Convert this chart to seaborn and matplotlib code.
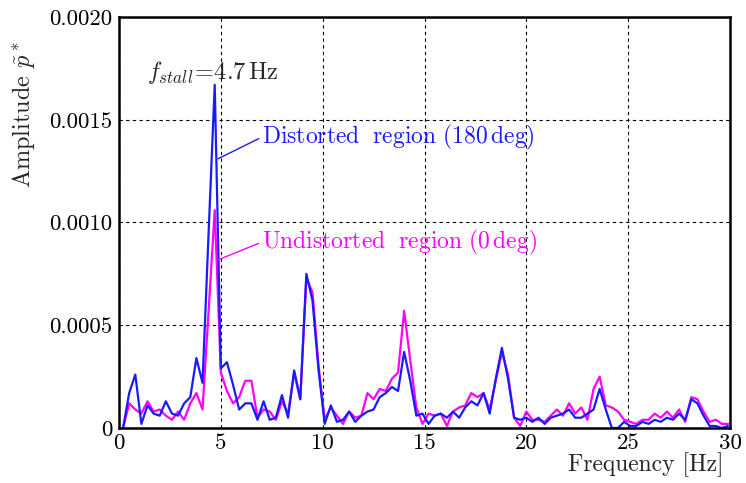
import matplotlib
matplotlib.use("Agg")
import matplotlib.pyplot as plt
import seaborn as sns
import pandas as pd

# Spectrum frequency bins [Hz]
freq = [0.2, 0.5, 0.8, 1.1, 1.4, 1.7, 2.0, 2.3, 2.6, 2.9,
        3.2, 3.5, 3.8, 4.1, 4.4, 4.7, 5.0, 5.3, 5.6, 5.9,
        6.2, 6.5, 6.8, 7.1, 7.4, 7.7, 8.0, 8.3, 8.6, 8.9,
        9.2, 9.5, 9.8, 10.1, 10.4, 10.7, 11.0, 11.3, 11.6, 11.9,
        12.2, 12.5, 12.8, 13.1, 13.4, 13.7, 14.0, 14.3, 14.6, 14.9,
        15.2, 15.5, 15.8, 16.1, 16.4, 16.7, 17.0, 17.3, 17.6, 17.9,
        18.2, 18.5, 18.8, 19.1, 19.4, 19.7, 20.0, 20.3, 20.6, 20.9,
        21.2, 21.5, 21.8, 22.1, 22.4, 22.7, 23.0, 23.3, 23.6, 23.9,
        24.2, 24.5, 24.8, 25.1, 25.4, 25.7, 26.0, 26.3, 26.6, 26.9,
        27.2, 27.5, 27.8, 28.1, 28.4, 28.7, 29.0, 29.3, 29.6, 29.9]

# Pressure amplitude in the distorted sector (180 deg)
amp_distorted = [0.0, 0.00017, 0.00026, 0.00002, 0.00011, 0.00007, 0.00006, 0.00013, 0.00007, 0.00006,
                 0.00012, 0.00015, 0.00034, 0.00022, 0.00095, 0.00167, 0.00029, 0.00032, 0.00021, 0.00009,
                 0.00012, 0.00012, 0.00004, 0.00013, 0.00004, 0.00005, 0.00016, 0.00005, 0.00028, 0.00014,
                 0.00075, 0.00062, 0.00028, 0.00002, 0.00011, 0.00003, 0.00004, 0.00008, 0.00003, 0.00006,
                 0.00008, 0.00009, 0.00015, 0.00017, 0.00020, 0.00018, 0.00037, 0.00023, 0.00006, 0.00007,
                 0.00002, 0.00006, 0.00007, 0.00005, 0.00008, 0.00005, 0.00010, 0.00013, 0.00011, 0.00017,
                 0.00007, 0.00024, 0.00039, 0.00024, 0.00005, 0.00004, 0.00005, 0.00003, 0.00005, 0.00002,
                 0.00005, 0.00006, 0.00007, 0.00009, 0.00005, 0.00005, 0.00007, 0.00009, 0.00019, 0.00009,
                 0.0, 0.0, 0.00003, 0.00001, 0.00001, 0.00003, 0.00002, 0.00004, 0.00003, 0.00005,
                 0.00004, 0.00007, 0.00004, 0.00014, 0.00012, 0.00006, 0.00001, 0.00001, 0.0, 0.00001]

# Pressure amplitude in the undistorted sector (0 deg)
amp_undistorted = [0.0, 0.00012, 0.00009, 0.00007, 0.00013, 0.00008, 0.00009, 0.00006, 0.00004, 0.00008,
                   0.00004, 0.00012, 0.00017, 0.00009, 0.00057, 0.00106, 0.00027, 0.00018, 0.00012, 0.00015,
                   0.00023, 0.00023, 0.00005, 0.00009, 0.00008, 0.00004, 0.00013, 0.00007, 0.00027, 0.00014,
                   0.00073, 0.00066, 0.00030, 0.00004, 0.00010, 0.00006, 0.00002, 0.00008, 0.00005, 0.00006,
                   0.00017, 0.00014, 0.00019, 0.00018, 0.00024, 0.00027, 0.00057, 0.00033, 0.00010, 0.00002,
                   0.00007, 0.00006, 0.00007, 0.00001, 0.00008, 0.00010, 0.00011, 0.00017, 0.00015, 0.00017,
                   0.00009, 0.00023, 0.00037, 0.00026, 0.00005, 0.00001, 0.00008, 0.00004, 0.00004, 0.00003,
                   0.00006, 0.00009, 0.00006, 0.00012, 0.00007, 0.00010, 0.00004, 0.00019, 0.00025, 0.00011,
                   0.00010, 0.00008, 0.00004, 0.00003, 0.00002, 0.00004, 0.00004, 0.00007, 0.00005, 0.00008,
                   0.00005, 0.00009, 0.00003, 0.00015, 0.00014, 0.00008, 0.00003, 0.00004, 0.00002, 0.00002]

x_ticks = [0, 5, 10, 15, 20, 25, 30]
y_ticks = [0, 0.0005, 0.0010, 0.0015, 0.0020]
y_tick_labels = ["0", "0.0005", "0.0010", "0.0015", "0.0020"]

label_undist = "Undistorted  region (0 deg)"
label_dist = "Distorted  region (180 deg)"
text_undist = r"$\mathrm{Undistorted\ \ region\ (0\,deg)}$"
text_dist = r"$\mathrm{Distorted\ \ region\ (180\,deg)}$"

df = pd.concat([
    pd.DataFrame({"freq": freq, "amp": amp_undistorted, "region": label_undist}),
    pd.DataFrame({"freq": freq, "amp": amp_distorted, "region": label_dist}),
])

sns.set_style("white")
plt.rcParams["font.family"] = "serif"
plt.rcParams["font.serif"] = ["cmr10", "DejaVu Serif"]
plt.rcParams["mathtext.fontset"] = "cm"
plt.rcParams["axes.formatter.use_mathtext"] = True

BLUE = "#1a1aff"
MAGENTA = "#ff00ff"

fig = plt.figure(figsize=(7.46, 4.83), dpi=100)
ax = fig.add_axes([119 / 746, 1 - 428 / 483, 611 / 746, 411 / 483])

sns.lineplot(data=df, x="freq", y="amp", hue="region",
             hue_order=[label_undist, label_dist],
             palette={label_undist: MAGENTA, label_dist: BLUE},
             linewidth=1.6, legend=False, ax=ax, estimator=None)

ax.set_xlim(0, 30)
ax.set_ylim(0, 0.0020)
ax.set_xticks(x_ticks)
ax.set_xticklabels([str(t) for t in x_ticks])
ax.set_yticks(y_ticks)
ax.set_yticklabels(y_tick_labels)
ax.tick_params(direction="in", length=4, width=0.8, labelsize=16.5, colors="black")
ax.tick_params(axis="x", pad=4)
ax.tick_params(axis="y", pad=5)

ax.grid(True, color="black", linestyle=(0, (3, 3)), linewidth=0.8)
for sp in ax.spines.values():
    sp.set_linewidth(1.8)
    sp.set_color("black")

ax.set_xlabel("Frequency [Hz]", fontsize=17, loc="right")
ax.xaxis.set_label_coords(0.99, -0.06)
ax.set_ylabel(r"Amplitude $\tilde{p}^*$", fontsize=17.5)
ax.yaxis.label.set(ha="center", va="center", rotation_mode="default")
ax.yaxis.set_label_coords((24 - 119) / 611, (428 - 115) / 411)

# Stall frequency marker
ax.text(4.6, 0.001732, r"$f_{stall}\!=\!4.7\,\mathrm{Hz}$", fontsize=17.5,
        ha="center", va="center")

# Leader-line labels for the two sectors
ax.annotate(text_dist, xy=(4.86, 0.00131), xytext=(7.02, 0.001416),
            color=BLUE, fontsize=17, ha="left", va="center",
            arrowprops=dict(arrowstyle="-", color=BLUE, lw=1.0,
                            shrinkA=0, shrinkB=0, relpos=(0, 0.5)))
ax.annotate(text_undist, xy=(4.86, 0.000818), xytext=(7.02, 0.000905),
            color=MAGENTA, fontsize=17, ha="left", va="center",
            arrowprops=dict(arrowstyle="-", color=MAGENTA, lw=1.0,
                            shrinkA=0, shrinkB=0, relpos=(0, 0.5)))

fig.savefig("out.png", dpi=100)
